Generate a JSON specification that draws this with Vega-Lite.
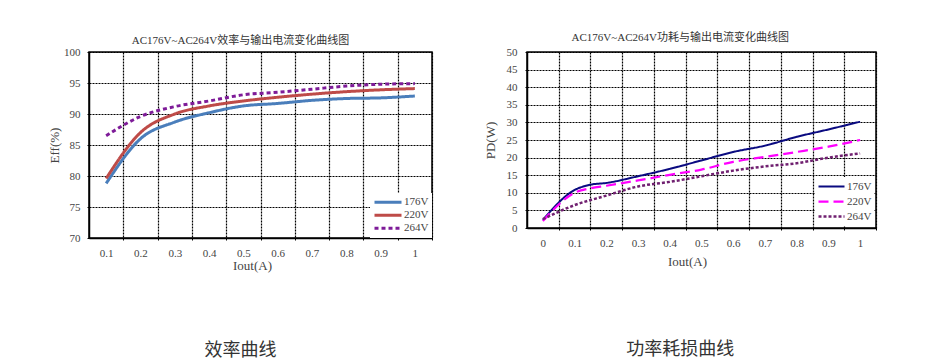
{
  "$schema": "https://vega.github.io/schema/vega-lite/v6.json",
  "background": "white",
  "padding": {"left": 47, "top": 31, "right": 5, "bottom": 0},
  "datasets": {
    "eff": [
      {"V": "176V", "I": 0.1, "Eff": 78.8}, {"V": "176V", "I": 0.2, "Eff": 86.0}, {"V": "176V", "I": 0.3, "Eff": 88.7}, {"V": "176V", "I": 0.4, "Eff": 90.2}, {"V": "176V", "I": 0.5, "Eff": 91.3}, {"V": "176V", "I": 0.6, "Eff": 91.7}, {"V": "176V", "I": 0.7, "Eff": 92.2}, {"V": "176V", "I": 0.8, "Eff": 92.5}, {"V": "176V", "I": 0.9, "Eff": 92.6}, {"V": "176V", "I": 1.0, "Eff": 92.9},
      {"V": "220V", "I": 0.1, "Eff": 79.6}, {"V": "220V", "I": 0.2, "Eff": 87.0}, {"V": "220V", "I": 0.3, "Eff": 90.0}, {"V": "220V", "I": 0.4, "Eff": 91.3}, {"V": "220V", "I": 0.5, "Eff": 92.1}, {"V": "220V", "I": 0.6, "Eff": 92.7}, {"V": "220V", "I": 0.7, "Eff": 93.2}, {"V": "220V", "I": 0.8, "Eff": 93.6}, {"V": "220V", "I": 0.9, "Eff": 93.9}, {"V": "220V", "I": 1.0, "Eff": 94.1},
      {"V": "264V", "I": 0.1, "Eff": 86.5}, {"V": "264V", "I": 0.2, "Eff": 89.6}, {"V": "264V", "I": 0.3, "Eff": 91.2}, {"V": "264V", "I": 0.4, "Eff": 92.1}, {"V": "264V", "I": 0.5, "Eff": 93.1}, {"V": "264V", "I": 0.6, "Eff": 93.5}, {"V": "264V", "I": 0.7, "Eff": 94.0}, {"V": "264V", "I": 0.8, "Eff": 94.5}, {"V": "264V", "I": 0.9, "Eff": 94.8}, {"V": "264V", "I": 1.0, "Eff": 94.9}
    ],
    "pd": [
      {"V": "176V", "I": 0.0, "PD": 2.3}, {"V": "176V", "I": 0.1, "PD": 10.8}, {"V": "176V", "I": 0.15, "PD": 12.3}, {"V": "176V", "I": 0.2, "PD": 12.8}, {"V": "176V", "I": 0.3, "PD": 14.7}, {"V": "176V", "I": 0.4, "PD": 16.8}, {"V": "176V", "I": 0.5, "PD": 19.2}, {"V": "176V", "I": 0.6, "PD": 21.6}, {"V": "176V", "I": 0.7, "PD": 23.4}, {"V": "176V", "I": 0.8, "PD": 25.9}, {"V": "176V", "I": 0.9, "PD": 28.0}, {"V": "176V", "I": 1.0, "PD": 30.2},
      {"V": "220V", "I": 0.0, "PD": 2.0}, {"V": "220V", "I": 0.1, "PD": 10.0}, {"V": "220V", "I": 0.15, "PD": 11.3}, {"V": "220V", "I": 0.2, "PD": 12.0}, {"V": "220V", "I": 0.3, "PD": 13.5}, {"V": "220V", "I": 0.4, "PD": 15.1}, {"V": "220V", "I": 0.5, "PD": 16.6}, {"V": "220V", "I": 0.6, "PD": 18.8}, {"V": "220V", "I": 0.7, "PD": 20.2}, {"V": "220V", "I": 0.8, "PD": 21.6}, {"V": "220V", "I": 0.9, "PD": 23.1}, {"V": "220V", "I": 1.0, "PD": 25.0},
      {"V": "264V", "I": 0.0, "PD": 2.5}, {"V": "264V", "I": 0.1, "PD": 6.5}, {"V": "264V", "I": 0.2, "PD": 9.2}, {"V": "264V", "I": 0.3, "PD": 11.8}, {"V": "264V", "I": 0.4, "PD": 13.1}, {"V": "264V", "I": 0.5, "PD": 14.7}, {"V": "264V", "I": 0.6, "PD": 16.3}, {"V": "264V", "I": 0.7, "PD": 17.5}, {"V": "264V", "I": 0.8, "PD": 18.4}, {"V": "264V", "I": 0.9, "PD": 20.0}, {"V": "264V", "I": 1.0, "PD": 21.2}
    ]
  },
  "config": {
    "font": "Liberation Serif, Noto Sans CJK SC",
    "view": {"stroke": "#000", "strokeWidth": 1.5},
    "concat": {"spacing": 49},
    "axis": {
      "labelFont": "Liberation Serif, Noto Sans CJK SC",
      "titleFont": "Liberation Serif, Noto Sans CJK SC",
      "labelFontSize": 11,
      "titleFontSize": 13,
      "titleFontWeight": "normal",
      "labelColor": "#444",
      "titleColor": "#444",
      "gridColor": "#000",
      "gridDash": [2, 1],
      "gridOpacity": 1,
      "gridWidth": 1.2,
      "domainColor": "#000",
      "domainWidth": 1.5,
      "tickColor": "#000",
      "tickSize": 3,
      "tickDash": [2, 1]
    },
    "legend": {
      "orient": "bottom-right",
      "title": null,
      "fillColor": "white",
      "symbolType": "stroke",
      "labelFont": "Liberation Serif",
      "labelFontSize": 11,
      "labelColor": "#444",
      "labelOffset": 1,
      "rowPadding": 0
    },
    "title": {"font": "Liberation Serif, Noto Sans CJK SC", "fontWeight": "normal", "color": "#333"}
  },
  "resolve": {
    "scale": {"color": "independent", "strokeDash": "independent", "strokeWidth": "independent"},
    "legend": {"color": "independent", "strokeDash": "independent", "strokeWidth": "independent"}
  },
  "hconcat": [
    {
      "title": {"text": "效率曲线", "orient": "bottom", "fontSize": 18, "offset": 69, "font": "Noto Sans CJK SC", "anchor": "middle", "frame": "bounds", "color": "#333"},
      "resolve": {
        "scale": {"color": "independent", "strokeDash": "independent", "strokeWidth": "independent"},
        "legend": {"color": "independent", "strokeDash": "independent", "strokeWidth": "independent"}
      },
      "vconcat": [
        {
          "title": {"text": "AC176V~AC264V效率与输出电流变化曲线图", "fontSize": 11, "anchor": "middle", "frame": "bounds", "offset": 0},
          "width": 343,
          "height": 186,
          "data": {"name": "eff"},
          "mark": {"type": "line", "interpolate": "monotone"},
          "encoding": {
            "x": {
              "field": "I", "type": "quantitative",
              "scale": {"domain": [0.05, 1.05], "nice": false, "zero": false},
              "axis": {"title": "Iout(A)", "values": [0.15, 0.25, 0.35, 0.45, 0.55, 0.65, 0.75, 0.85, 0.95, 1.05], "labelExpr": "format(datum.value - 0.05, '.1~f')", "labelOffset": -17.15, "labelOverlap": false, "labelFlush": false, "labelPadding": 6.5, "titlePadding": 1, "titleX": 163, "grid": true}
            },
            "y": {
              "field": "Eff", "type": "quantitative",
              "scale": {"domain": [70, 100], "nice": false, "zero": false},
              "axis": {"title": "Eff(%)", "values": [70, 75, 80, 85, 90, 95, 100], "labelPadding": 6, "titlePadding": 2, "grid": true}
            },
            "color": {
              "field": "V", "type": "nominal",
              "scale": {"domain": ["176V", "220V", "264V"], "range": ["#4A7EBB", "#BE4B48", "#7E1B98"]},
              "legend": {"symbolSize": 729, "clipHeight": 12.5, "offset": 0, "padding": 3, "orient": "bottom-right"}
            },
            "strokeDash": {
              "field": "V", "type": "nominal",
              "scale": {"domain": ["176V", "220V", "264V"], "range": [[1, 0], [1, 0], [4, 3]]}
            },
            "strokeWidth": {
              "field": "V", "type": "nominal",
              "scale": {"domain": ["176V", "220V", "264V"], "range": [3, 3, 2]}
            }
          }
        }
      ]
    },
    {
      "title": {"text": "功率耗损曲线", "orient": "bottom", "fontSize": 18, "offset": 72, "font": "Noto Sans CJK SC", "anchor": "middle", "frame": "bounds", "color": "#333"},
      "resolve": {
        "scale": {"color": "independent", "strokeDash": "independent", "strokeWidth": "independent"},
        "legend": {"color": "independent", "strokeDash": "independent", "strokeWidth": "independent"}
      },
      "vconcat": [
        {
          "title": {"text": "AC176V~AC264V功耗与输出电流变化曲线图", "fontSize": 11, "anchor": "middle", "frame": "bounds", "offset": 3},
          "width": 349,
          "height": 176,
          "data": {"name": "pd"},
          "mark": {"type": "line", "interpolate": "monotone"},
          "encoding": {
            "x": {
              "field": "I", "type": "quantitative",
              "scale": {"domain": [-0.05, 1.05], "nice": false, "zero": false},
              "axis": {"title": "Iout(A)", "values": [0.05, 0.15, 0.25, 0.35, 0.45, 0.55, 0.65, 0.75, 0.85, 0.95, 1.05], "labelExpr": "format(datum.value - 0.05, '.1~f')", "labelOffset": -15.9, "labelOverlap": false, "labelFlush": false, "labelPadding": 6.5, "titlePadding": 7, "titleX": 160, "grid": true}
            },
            "y": {
              "field": "PD", "type": "quantitative",
              "scale": {"domain": [0, 50], "nice": false, "zero": true},
              "axis": {"title": "PD(W)", "values": [0, 5, 10, 15, 20, 25, 30, 35, 40, 45, 50], "labelPadding": 7, "titlePadding": 9, "grid": true}
            },
            "color": {
              "field": "V", "type": "nominal",
              "scale": {"domain": ["176V", "220V", "264V"], "range": ["#0A0A80", "#FF00FF", "#702070"]},
              "legend": {"symbolSize": 676, "clipHeight": 15, "offset": 2, "padding": 2, "orient": "bottom-right"}
            },
            "strokeDash": {
              "field": "V", "type": "nominal",
              "scale": {"domain": ["176V", "220V", "264V"], "range": [[1, 0], [10, 5], [3, 2]]}
            },
            "strokeWidth": {
              "field": "V", "type": "nominal",
              "scale": {"domain": ["176V", "220V", "264V"], "range": [2, 2.5, 2]}
            }
          }
        }
      ]
    }
  ]
}
